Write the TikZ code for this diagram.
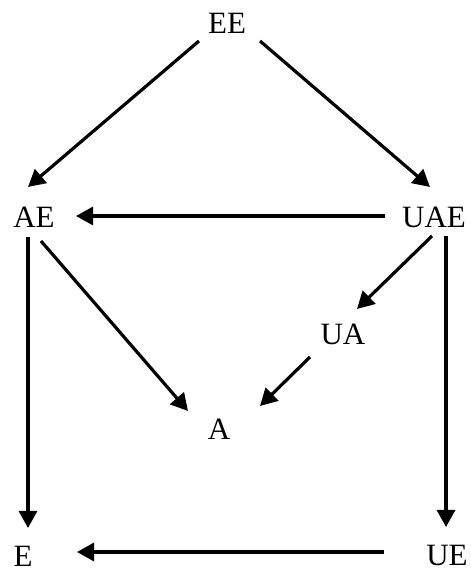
\documentclass[tikz,border=0pt]{standalone}
\usepackage{fontspec}
\setmainfont{Liberation Serif}
\usetikzlibrary{arrows.meta}

\begin{document}
\begin{tikzpicture}[x=1pt, y=1pt, >={Triangle[length=17pt, width=18pt]},
  lbl/.style={font=\fontsize{31}{37}\selectfont, inner sep=0pt},
  arr/.style={->, line width=3.2pt}]

% Canvas
\useasboundingbox (0,0) rectangle (471,573);

% Labels
\node[lbl] (EE)  at (227,550) {EE};
\node[lbl] (AE)  at (34,356)  {AE};
\node[lbl] (UAE) at (434,356) {UAE};
\node[lbl] (UA)  at (343,239) {UA};
\node[lbl] (A)   at (219,144) {A};
\node[lbl] (E)   at (23,17)   {E};
\node[lbl] (UE)  at (447,17)  {UE};

% Arrows
\draw[arr] ([shift={(-28,-18)}]EE.center) -- ([shift={(-6,30)}]AE.center);
\draw[arr] ([shift={(33,-18)}]EE.center) -- ([shift={(-4,30)}]UAE.center);
\draw[arr] ([shift={(-49,1)}]UAE.center) -- ([shift={(42,1)}]AE.center);
\draw[arr] ([shift={(-6,-20)}]AE.center) -- ([shift={(5,28)}]E.center);
\draw[arr] ([shift={(7,-24)}]AE.center) -- ([shift={(-31,18)}]A.center);
\draw[arr] ([shift={(-2,-19)}]UAE.center) -- ([shift={(14,25)}]UA.center);
\draw[arr] ([shift={(12,-19)}]UAE.center) -- ([shift={(-1,29)}]UE.center);
\draw[arr] ([shift={(-33,-23)}]UA.center) -- ([shift={(41,23)}]A.center);
\draw[arr] ([shift={(-63,4)}]UE.center) -- ([shift={(54,4)}]E.center);

\end{tikzpicture}
\end{document}
